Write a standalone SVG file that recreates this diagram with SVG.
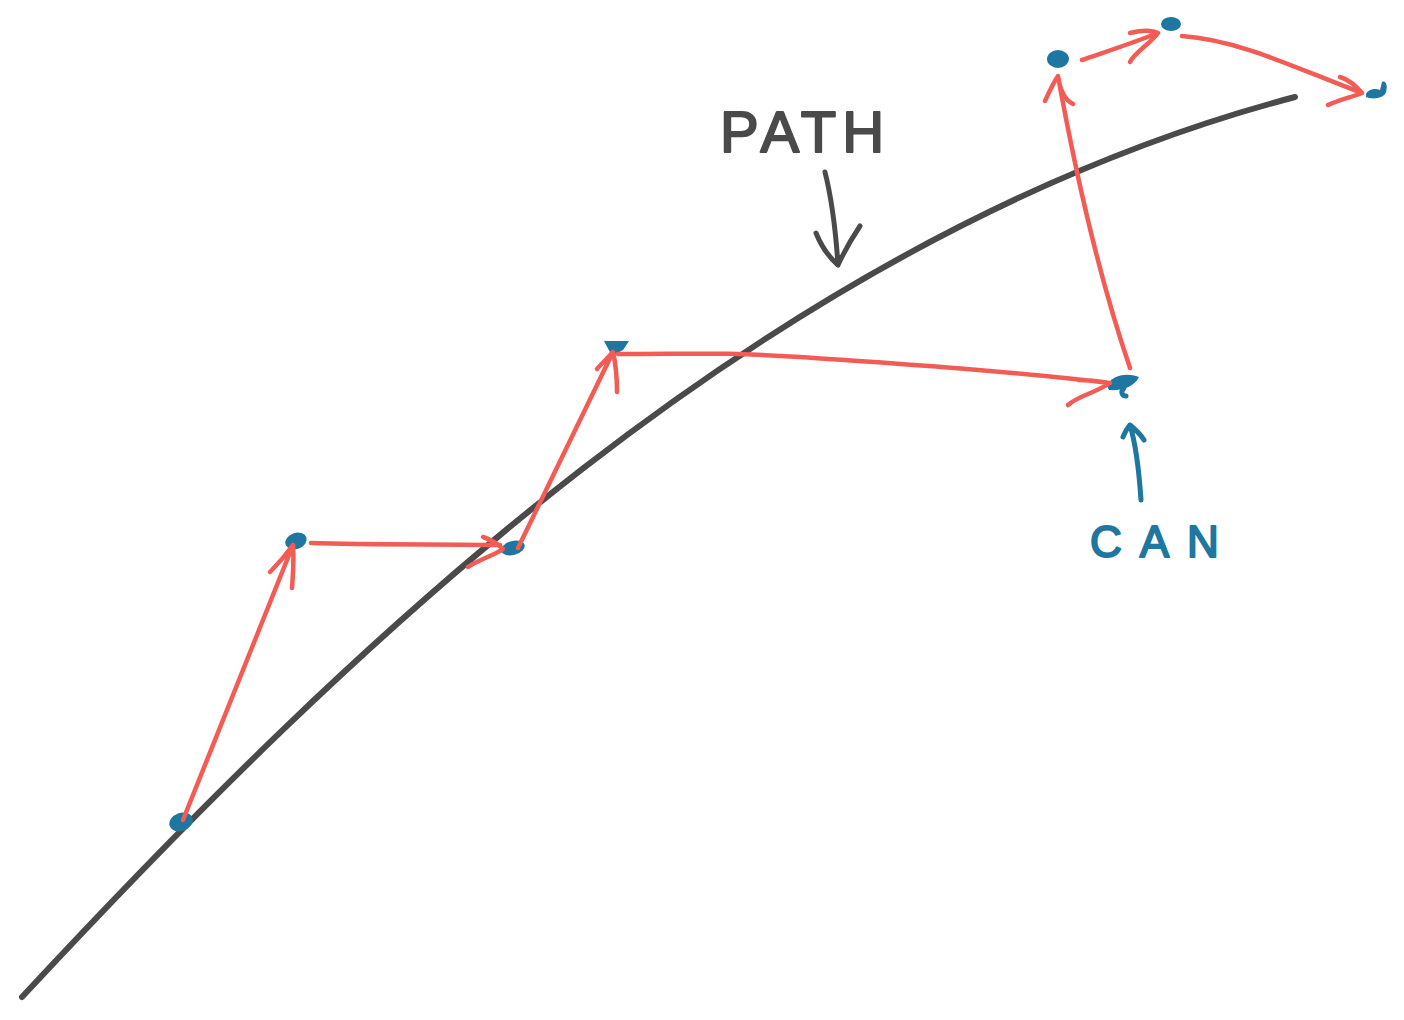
<svg xmlns="http://www.w3.org/2000/svg" width="1404" height="1020" viewBox="0 0 1404 1020">
<style>
.red{fill:none;stroke:#f25c55;stroke-width:4.5;stroke-linecap:round;stroke-linejoin:round}
.blob{fill:#1d77a0}
.gray{fill:none;stroke:#4a4a4a;stroke-width:5;stroke-linecap:round;stroke-linejoin:round}
.blue{fill:none;stroke:#1d77a0;stroke-width:5;stroke-linecap:round;stroke-linejoin:round}
.lbl{font-family:"Liberation Sans","DejaVu Sans",sans-serif;stroke-linejoin:round}
</style>
<rect width="1404" height="1020" fill="#fff"/>
<g id="path-curve">
<path d="M22,997 C345,650 770,235 1295,97" fill="none" stroke="#4a4a4a" stroke-width="6" stroke-linecap="round"/>
</g>
<g id="label-path">
<text class="lbl" x="720" y="152" font-size="58" fill="#4a4a4a" stroke="#4a4a4a" stroke-width="2" letter-spacing="6">PATH</text>
<path class="gray" d="M825,172 C832,200 836,235 838,265 M816,233 C822,248 830,258 838,265 C845,250 852,238 860,226"/>
</g>
<g id="label-can">
<text class="lbl" x="1090" y="557" font-size="44" fill="#1d77a0" stroke="#1d77a0" stroke-width="2" letter-spacing="18">CAN</text>
<path class="blue" d="M1141,500 C1139,470 1136,445 1130,425 M1123,437 C1126,430 1128,427 1130,425 C1136,430 1141,435 1144,440"/>
</g>
<g id="nodes">
<g id="n1"><ellipse class="blob" cx="181" cy="822" rx="12" ry="9" transform="rotate(-20 181 822)"/></g>
<g id="n2"><ellipse class="blob" cx="296" cy="541" rx="11" ry="8" transform="rotate(-20 296 541)"/></g>
<g id="n3"><ellipse class="blob" cx="513" cy="548" rx="12" ry="7" transform="rotate(-15 513 548)"/></g>
<g id="n4"><path class="blob" d="M604,341 L629,341 L623,350 L612,356 Z"/></g>
<g id="n5"><path class="blob" d="M1107,386 C1111,376 1125,372 1139,377 C1134,387 1122,391 1109,390 Z"/><path class="blue" stroke-width="3.5" d="M1124,388 C1120,392 1122,396 1126,396"/></g>
<g id="n6"><ellipse class="blob" cx="1058" cy="59" rx="11" ry="9"/></g>
<g id="n7"><ellipse class="blob" cx="1171" cy="24" rx="10" ry="7"/></g>
<g id="n8"><path class="blob" d="M1366,94 C1368,89 1376,88 1380,90 L1382,82 C1386,80 1388,86 1386,92 C1385,98 1372,100 1366,97 Z"/></g>
</g>
<g id="connectors">
<path class="red" d="M183,820 L293,545 M270,572 C280,562 288,552 293,545 C294,560 293,575 292,588"/>
<path class="red" d="M311,543 C370,545 440,544 500,545 M483,537 C492,540 498,544 503,549 C495,555 478,560 468,567"/>
<path class="red" d="M518,548 L613,352 M597,369 C603,362 609,357 613,352 C616,365 617,378 617,392"/>
<path class="red" d="M618,354 C700,354 720,352 800,357 C900,364 1000,370 1110,383 M1078,380 C1092,380 1102,382 1110,383 C1095,393 1078,396 1068,405"/>
<path class="red" d="M1130,368 C1100,280 1075,170 1058,76 M1045,101 C1050,90 1054,82 1058,76 C1060,90 1065,100 1073,104"/>
<path class="red" d="M1082,60 C1105,52 1130,44 1158,33 M1130,33 C1142,30 1152,30 1158,33 C1150,44 1135,52 1130,62"/>
<path class="red" d="M1182,36 C1240,40 1300,70 1362,93 M1340,77 C1350,80 1356,86 1362,93 C1352,97 1338,100 1328,105"/>
</g>
</svg>
